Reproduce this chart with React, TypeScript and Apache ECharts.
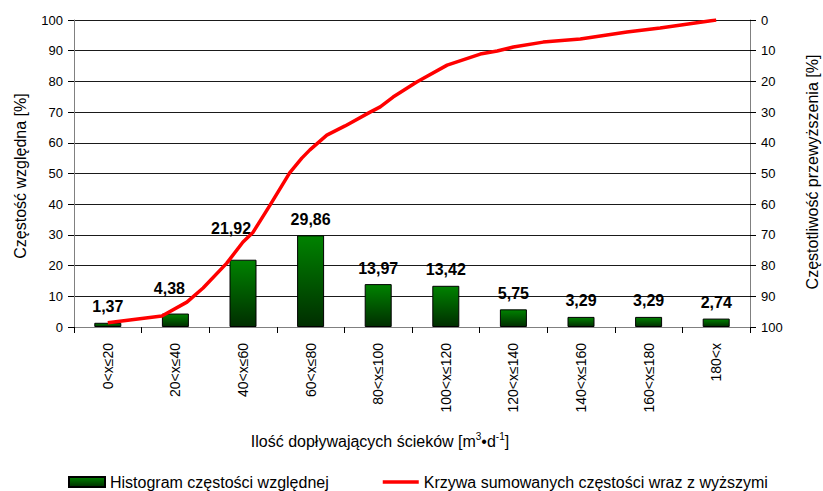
import React, { useEffect, useRef } from "react";
import * as echarts from "echarts";

const categories = [
  "0<x≤20",
  "20<x≤40",
  "40<x≤60",
  "60<x≤80",
  "80<x≤100",
  "100<x≤120",
  "120<x≤140",
  "140<x≤160",
  "160<x≤180",
  "180<x",
];
const histogram = [1.37, 4.38, 21.92, 29.86, 13.97, 13.42, 5.75, 3.29, 3.29, 2.74];
// cumulative curve, x in class-index units (0 = first class centre)
const curveX = [0, 0.8, 1.17, 1.41, 1.76, 2.0, 2.15, 2.4, 2.69, 2.87, 2.99, 3.24, 3.51, 3.88, 4.03, 4.22, 4.57, 5.02, 5.51, 5.76, 6.0, 6.44, 6.99, 7.68, 8.17, 9.0];
const curveY = [1.37, 3.6, 8.1, 12.7, 20.8, 27.7, 30.9, 39.7, 50.2, 55.0, 57.7, 62.5, 65.5, 70.0, 71.7, 74.9, 79.8, 85.3, 88.9, 89.9, 91.2, 92.8, 93.8, 96.1, 97.4, 100];
const leftTicks = [0, 100, 10];
const rightTicks = [0, 100, 10];

const FONT = "'Liberation Sans', Arial, sans-serif";

// label nudges (pixels) for labels that were moved off the curve in the original
const labelShift: Record<number, number[]> = { 1: [-6, -9], 2: [-12, -15] };

export default function App() {
  const ref = useRef<HTMLDivElement>(null);
  useEffect(() => {
    if (!ref.current) return;
    const chart = echarts.init(ref.current, null, { renderer: "svg" });
    const barColor = new echarts.graphic.LinearGradient(0, 0, 0, 1, [
      { offset: 0, color: "#008200" },
      { offset: 1, color: "#002e00" },
    ]);
    chart.setOption({
      animation: false,
      textStyle: { fontFamily: FONT },
      grid: { left: 74, right: 73, top: 20, bottom: 164, containLabel: false },
      legend: {
        left: 68,
        top: 474,
        padding: 0,
        itemWidth: 36,
        itemHeight: 10,
        itemGap: 54,
        textStyle: { fontSize: 16, color: "#000", fontFamily: FONT },
        data: [
          { name: "Histogram częstości względnej", icon: "rect" },
          {
            name: "Krzywa sumowanych częstości wraz z wyższymi",
            icon: "path://M0,0M36,10M0,3.2L36,3.2L36,6.8L0,6.8Z",
            itemStyle: { color: "#ff0000", borderWidth: 0 },
          },
        ],
      },
      xAxis: [
        {
          type: "category",
          data: categories,
          axisLine: { lineStyle: { color: "#808080", width: 1 } },
          axisTick: { show: true, length: 6, interval: 0, lineStyle: { color: "#000" } },
          axisLabel: {
            rotate: 90,
            interval: 0,
            margin: 16,
            fontSize: 14,
            color: "#000",
            fontFamily: FONT,
          },
        },
        {
          type: "value",
          min: -0.5,
          max: 9.5,
          show: false,
        },
      ],
      yAxis: [
        {
          type: "value",
          min: leftTicks[0],
          max: leftTicks[1],
          interval: leftTicks[2],
          axisLine: { show: true, onZero: false, lineStyle: { color: "#808080" } },
          axisTick: { show: true, length: 6, lineStyle: { color: "#000" } },
          axisLabel: { fontSize: 13, color: "#000", margin: 11, fontFamily: FONT },
          splitLine: { show: true, lineStyle: { color: "#1a1a1a", width: 1 } },
        },
        {
          type: "value",
          min: rightTicks[0],
          max: rightTicks[1],
          interval: rightTicks[2],
          inverse: true,
          position: "right",
          axisLine: { show: true, onZero: false, lineStyle: { color: "#808080" } },
          axisTick: { show: true, length: 6, lineStyle: { color: "#000" } },
          axisLabel: { fontSize: 13, color: "#000", margin: 11, fontFamily: FONT },
          splitLine: { show: false },
        },
      ],
      graphic: [
        {
          type: "text",
          x: 20,
          y: 176,
          rotation: Math.PI / 2,
          style: {
            text: "Częstość względna [%]",
            fontSize: 16,
            fontFamily: FONT,
            fill: "#000",
            align: "center",
            verticalAlign: "middle",
          },
        },
        {
          type: "text",
          x: 812,
          y: 172,
          rotation: Math.PI / 2,
          style: {
            text: "Częstotliwość przewyższenia [%]",
            fontSize: 16,
            fontFamily: FONT,
            fill: "#000",
            align: "center",
            verticalAlign: "middle",
          },
        },
        {
          type: "text",
          x: 380,
          y: 441,
          style: {
            text: "{a|Ilość dopływających ścieków [m}{s|3}{a|•d}{s|-1}{a|]}",
            align: "center",
            verticalAlign: "middle",
            fontFamily: FONT,
            rich: {
              a: { fontSize: 16, fontFamily: FONT, color: "#000", lineHeight: 20 },
              s: { fontSize: 10, fontFamily: FONT, color: "#000", lineHeight: 20, padding: [0, 0, 9, 0] },
            },
          },
        },
      ],
      series: [
        {
          name: "Histogram częstości względnej",
          type: "bar",
          data: histogram.map((v, i) =>
            labelShift[i] ? { value: v, label: { offset: labelShift[i] } } : v
          ),
          barWidth: 27,
          itemStyle: { color: barColor, borderColor: "#000", borderWidth: 1 },
          label: {
            show: true,
            position: "top",
            distance: 8,
            fontSize: 16,
            fontWeight: "bold",
            color: "#000",
            fontFamily: FONT,
            formatter: (p: any) => Number(p.value).toFixed(2).replace(".", ","),
          },
          z: 2,
        },
        {
          name: "Krzywa sumowanych częstości wraz z wyższymi",
          type: "line",
          xAxisIndex: 1,
          yAxisIndex: 0,
          data: curveX.map((x, i) => [x, curveY[i]]),
          symbol: "none",
          smooth: false,
          lineStyle: { color: "#ff0000", width: 3.5 },
          itemStyle: { color: "#ff0000" },
          z: 3,
        },
      ],
    });
    return () => chart.dispose();
  }, []);
  return (
    <div
      ref={ref}
      style={{ position: "fixed", left: 0, top: 0, width: 823, height: 491, overflow: "hidden", background: "#fff" }}
    />
  );
}
